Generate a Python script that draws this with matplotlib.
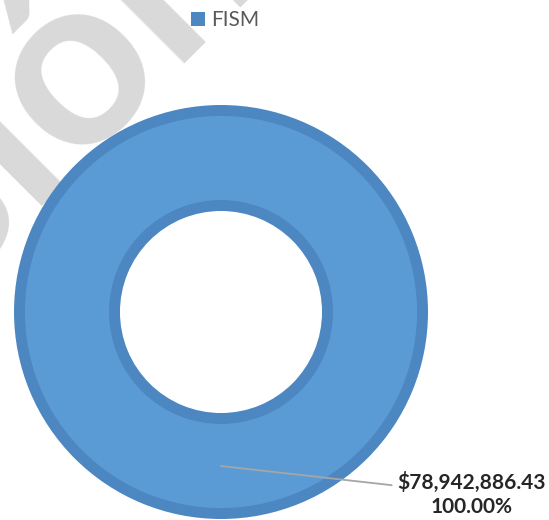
import numpy as np
import matplotlib.pyplot as plt

plt.rcParams['font.family'] = ['Lato', 'DejaVu Sans']

categories = ["FISM"]
amounts = [78942886.43]
watermark = "Versión"

fill_color = "#5B9BD5"
edge_color = "#4C87C2"

fig = plt.figure(figsize=(5.49, 5.2), dpi=100)
# axes sized so the pie radius (1.0) is ~207 px
ax = fig.add_axes([14 / 549, 1 / 520, 414 / 549, 414 / 520])

# dark outer/inner bands, then the lighter fill on top
outer, _ = ax.pie(amounts, radius=1.0, startangle=90, colors=[edge_color],
                  wedgeprops=dict(width=0.512, linewidth=0))
inner, _ = ax.pie(amounts, radius=0.947, startangle=90, colors=[fill_color],
                  wedgeprops=dict(width=0.406, linewidth=0))
ax.set_xlim(-1, 1)
ax.set_ylim(-1, 1)
ax.set_frame_on(False)

# data label with leader line
total = sum(amounts)
w = outer[0]
mid = np.deg2rad((w.theta1 + w.theta2) / 2)
r_mid = 1.0 - 0.512 / 2
xy = (r_mid * np.cos(mid), r_mid * np.sin(mid))
label = "${:,.2f}\n{:.2f}%".format(amounts[0], amounts[0] / total * 100)
ax.annotate(label, xy=xy, xytext=(1.21, -0.88), textcoords="data",
            ha="center", va="center", multialignment="center",
            fontsize=15, fontweight="bold", color="#262626",
            linespacing=1.25,
            arrowprops=dict(arrowstyle="-", color="#A6A6A6", lw=1.3,
                            shrinkA=2, shrinkB=0))

fig.legend(handles=[outer[0]], labels=categories, loc="upper center",
           bbox_to_anchor=(0.41, 1.016), frameon=False, fontsize=15,
           handlelength=0.7, handleheight=0.7, handletextpad=0.3,
           labelcolor="#595959")

# faint watermark behind the chart
fig.text(273 / 549, 1 + 23 / 520, watermark, rotation=45, rotation_mode="anchor",
         ha="right", va="baseline", fontsize=176, fontweight="bold",
         color="#D9D9D9", zorder=-1)

fig.savefig("out.png", dpi=100)
